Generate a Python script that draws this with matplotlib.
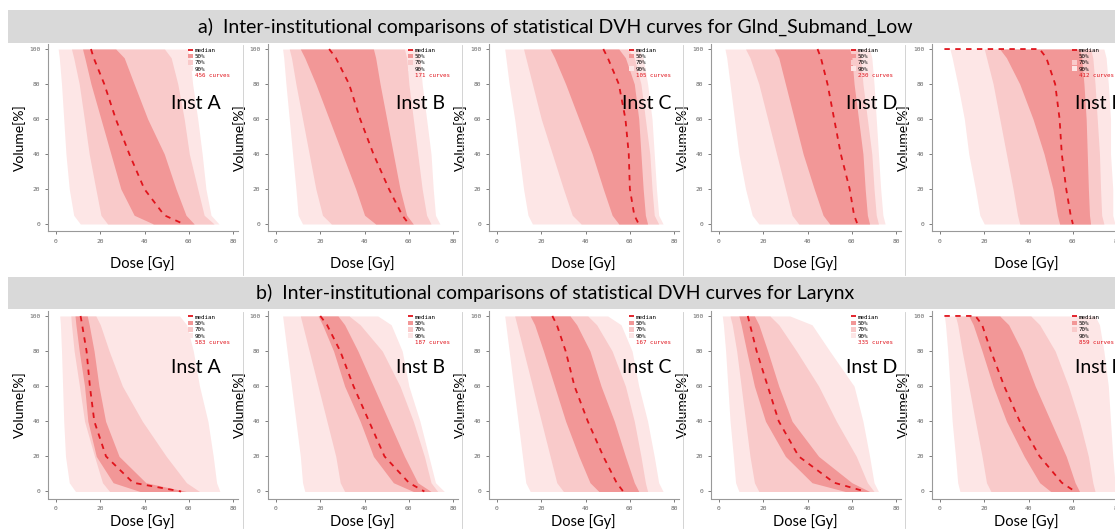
import matplotlib
matplotlib.use("Agg")
import matplotlib.pyplot as plt
from matplotlib.patches import Rectangle, Patch
from matplotlib.lines import Line2D

# volume levels [%] at which the band edges are sampled
volume = [100, 95, 80, 60, 40, 20, 5, 0]

inst_names = ["Inst A", "Inst B", "Inst C", "Inst D", "Inst E"]
inst_text_x = [52, 54, 56.5, 57.5, 61]

# ---- a) Glnd_Submand_Low : dose [Gy] of each band edge at the volume levels
glnd_counts = [456, 171, 105, 230, 412]
glnd_lo90 = [[1, 1.5, 2.5, 3.5, 4.5, 6, 8, 11],
             [3, 3.5, 4.5, 6, 7.5, 9, 10, 12],
             [3.5, 4, 5.5, 8, 10, 12, 14, 16],
             [2.7, 3.5, 5, 7, 9, 12, 15, 18],
             [4.5, 5.5, 8, 11, 13, 16, 18, 20]]
glnd_lo70 = [[7, 8, 10.5, 12.8, 15, 18, 20.3, 23.3],
             [6, 7, 9, 12, 15, 18, 21, 25],
             [12, 13, 16, 20, 25, 30, 34, 38],
             [12, 14, 18, 22, 26, 30, 33, 36],
             [20, 21, 24, 27, 30, 33, 35, 36]]
glnd_lo50 = [[12, 13, 15.8, 20.3, 24.8, 29.3, 35.3, 44],
             [11, 13, 18, 24, 30, 36, 40, 45],
             [24, 26, 31, 37, 43, 48, 52, 55],
             [25, 27, 30, 34, 38, 43, 47, 50],
             [27, 30, 36, 42, 47, 51, 53, 54]]
glnd_med = [[15.8, 17, 21.8, 27, 33.1, 39.9, 48.9, 57.6],
            [24, 27, 33, 38, 44, 51, 57, 60],
            [48, 50, 55, 58, 59.5, 60, 62, 64],
            [44.5, 46, 49, 52, 55, 59, 61, 62.5],
            [45, 48, 52, 54, 55, 57, 59, 60]]
glnd_med_start = [15.8, 24, 48, 44.5, 2]
glnd_hi50 = [[27, 30.8, 35.3, 41.4, 48.9, 54.2, 58.7, 62.4],
             [44, 45, 47, 50, 53, 56, 59, 62],
             [55, 58, 62, 64, 65, 66, 67, 68],
             [59, 60, 61, 63, 65, 66, 67, 68],
             [63, 64, 65, 66, 66.5, 67, 67.5, 68]]
glnd_hi70 = [[49, 52, 55, 57.9, 60.2, 64, 66.9, 71.4],
             [58, 59, 60, 62, 64, 66, 68, 70],
             [59, 62, 65, 67, 69, 70, 71, 73],
             [63, 64, 65, 67, 69, 70, 71, 72],
             [68, 69, 70, 71, 72, 72.5, 73, 74]]
glnd_hi90 = [[59.4, 60.5, 61.7, 64, 66, 67.7, 70, 73.6],
             [64, 65, 66, 68, 70, 71, 72, 74],
             [64, 66, 68, 70, 71, 72, 73, 75],
             [68, 69, 70, 71, 72, 73, 74, 75],
             [74, 75, 76, 77, 77, 78, 78, 79]]

# ---- b) Larynx
lar_counts = [583, 187, 167, 335, 859]
lar_lo90 = [[1.7, 2, 2.5, 3, 3.5, 4.3, 6, 8.8],
            [3, 3.5, 5, 7, 9, 11, 12, 13],
            [3.5, 4, 5.5, 7.5, 9.5, 11.5, 13, 15],
            [1.5, 2, 3, 4, 5, 6.5, 7.5, 9],
            [2, 2.5, 3.5, 4.5, 5.5, 7, 8, 9]]
lar_lo70 = [[6.7, 7, 8.2, 10.6, 12.9, 17.4, 21, 24.2],
            [11, 12, 15, 19, 23, 27, 29, 31],
            [8, 9, 12, 16, 20, 24, 27, 30],
            [5, 6, 8, 10, 12, 14, 16, 18],
            [7, 8, 10, 13, 16, 19, 21, 23]]
lar_lo50 = [[8.6, 9, 10.5, 12.9, 14.4, 18.2, 25.8, 37.9],
            [19, 21, 26, 31, 38, 44, 53, 62],
            [15, 17, 21, 26, 31, 37, 42, 46],
            [9, 10, 12.5, 16, 21, 30, 42, 57],
            [13, 15, 19, 24, 30, 38, 45, 50]]
lar_med = [[11.1, 11.8, 13.8, 15.3, 17.3, 22.6, 34.8, 56.5],
           [20, 23, 29, 35, 42, 49, 60, 67],
           [25, 27, 31, 35, 41, 48, 54, 57],
           [13, 14, 17, 22, 27, 36, 52, 66],
           [16, 19, 23, 29, 36, 45, 55, 61]]
lar_med_start = [11.1, 20, 25, 13, 2]
lar_hi50 = [[14.1, 15, 17.2, 19.4, 22.4, 28.5, 40.6, 58.8],
            [28, 31, 37, 44, 51, 58, 64, 70],
            [33, 36, 42, 47, 53, 58, 62, 64],
            [16, 18, 22, 27, 33, 45, 60, 68],
            [27, 31, 37, 43, 50, 57, 61, 63]]
lar_hi70 = [[18, 20, 24, 30, 39, 49.8, 58.9, 64.8],
            [33, 38, 48, 56, 62, 67, 70, 73],
            [41, 45, 52, 58, 62, 65, 67, 68],
            [23, 27, 35, 45, 53, 62, 67, 70],
            [41, 45, 52, 58, 63, 67, 69, 70]]
lar_hi90 = [[55.8, 59, 62, 64.8, 68.6, 71, 72.5, 74],
            [46, 52, 57, 60, 65, 69, 72, 76],
            [50, 56, 61, 64, 68, 71, 73, 75],
            [32, 42, 50, 61, 65, 68, 70, 72],
            [70, 72, 74, 76, 77, 78, 79, 80]]

c90 = "#fde6e6"
c70 = "#f9caca"
c50 = "#f29797"
cmed = "#e0141c"

W, H = 1115, 530
px = 2.215  # pixels per Gy
x_zero = [56, 276, 497, 719, 940]


def draw_panel(fig, left_px, bottom_px, height_px, lo90, lo70, lo50, med, med_start,
               hi50, hi70, hi90, count, name, name_x, name_y, xlab_y):
    ax = fig.add_axes([left_px / W, (H - bottom_px) / H, 85.6 * px / W, height_px / H])
    ax.fill_betweenx(volume, lo90, hi90, color=c90, lw=0)
    ax.fill_betweenx(volume, lo70, hi70, color=c70, lw=0)
    ax.fill_betweenx(volume, lo50, hi50, color=c50, lw=0)
    ax.plot([med_start] + med, [100] + volume, color=cmed, ls=(0, (3, 3)), lw=1.3)
    ax.set_xlim(-3.6, 82)
    ax.set_ylim(-4, 103)
    ax.set_xticks([0, 20, 40, 60, 80])
    ax.set_yticks([0, 20, 40, 60, 80, 100])
    for s in ["top", "right"]:
        ax.spines[s].set_visible(False)
    for s in ["left", "bottom"]:
        ax.spines[s].set_color("#999999")
        ax.spines[s].set_linewidth(0.8)
    ax.tick_params(labelsize=4.5, colors="#666666", length=2, width=0.6)
    for t in ax.get_xticklabels() + ax.get_yticklabels():
        t.set_family("DejaVu Sans Mono")
    ax.set_ylabel("Volume[%]", fontsize=10, family="Lato")
    ax.yaxis.set_label_coords(-0.115, 0.5)
    ax.set_xlabel("Dose [Gy]", fontsize=10.5, family="Lato")
    ax.xaxis.set_label_coords(0.5, xlab_y)
    ax.text(name_x, name_y, name, fontsize=14, family="Lato", ha="left", va="center")
    handles = [Line2D([], [], color=cmed, ls="--", lw=1.3),
               Patch(facecolor=c50), Patch(facecolor=c70), Patch(facecolor=c90),
               Patch(facecolor="none", edgecolor="none")]
    labels = ["median", "50%", "70%", "90%", f"{count} curves"]
    leg = ax.legend(handles, labels, loc="upper left", bbox_to_anchor=(0.72, 1.0),
                    frameon=False, prop={"family": "DejaVu Sans Mono", "size": 4.2},
                    handlelength=0.9, handleheight=0.9, handletextpad=0.3,
                    labelspacing=0.15, borderpad=0.1)
    leg.get_texts()[-1].set_color(cmed)
    return ax


fig = plt.figure(figsize=(W / 100, H / 100), dpi=100)

# grey title bars
for y0, y1, title in [(10, 43, "a)  Inter-institutional comparisons of statistical DVH curves for Glnd_Submand_Low"),
                      (277, 309, "b)  Inter-institutional comparisons of statistical DVH curves for Larynx")]:
    fig.patches.append(Rectangle((8 / W, (H - y1) / H), (W - 8) / W, (y1 - y0) / H,
                                 transform=fig.transFigure, facecolor="#d9d9d9", edgecolor="none"))
    fig.text(555 / W, (H - (y0 + y1) / 2) / H, title, fontsize=14, family="Lato",
             ha="center", va="center")

for i in range(5):
    draw_panel(fig, x_zero[i] - 8, 231, 187.2, glnd_lo90[i], glnd_lo70[i], glnd_lo50[i],
               glnd_med[i], glnd_med_start[i], glnd_hi50[i], glnd_hi70[i], glnd_hi90[i],
               glnd_counts[i], inst_names[i], inst_text_x[i], 69, -0.135)
    draw_panel(fig, x_zero[i] - 8, 498.5, 187.8, lar_lo90[i], lar_lo70[i], lar_lo50[i],
               lar_med[i], lar_med_start[i], lar_hi50[i], lar_hi70[i], lar_hi90[i],
               lar_counts[i], inst_names[i], inst_text_x[i], 70.5, -0.085)

# thin separators between the panel images
for xs in [243, 462, 683, 905]:
    fig.add_artist(Line2D([xs / W, xs / W], [(H - 275) / H, (H - 45) / H],
                          transform=fig.transFigure, color="#cccccc", lw=0.6))
    fig.add_artist(Line2D([xs / W, xs / W], [(H - 528) / H, (H - 312) / H],
                          transform=fig.transFigure, color="#cccccc", lw=0.6))

fig.savefig("out.png", dpi=100)
